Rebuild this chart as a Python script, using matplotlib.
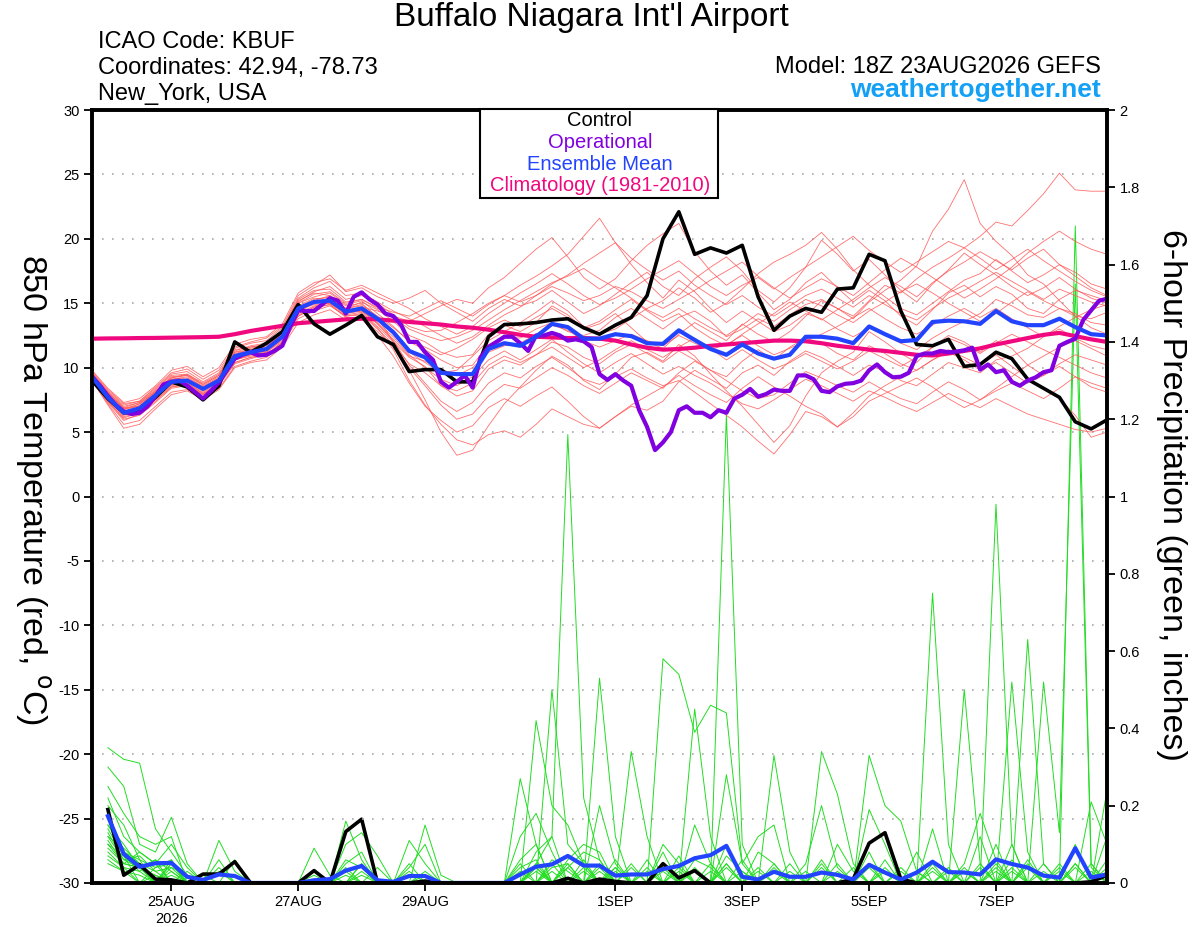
import numpy as np
import pandas as pd
import matplotlib
matplotlib.use("Agg")
import matplotlib.pyplot as plt
from matplotlib.patches import Rectangle

plt.rcParams['font.family'] = ['Liberation Sans', 'DejaVu Sans']
plt.rcParams['axes.unicode_minus'] = False

# forecast times: GEFS every 6 h, operational every 3 h, from 18Z 23AUG2026
start = pd.Timestamp('2026-08-23 18:00')
times = pd.date_range(start, periods=65, freq='6h')
times_op = pd.date_range(start, periods=129, freq='3h')
hours = np.array((times - start) / pd.Timedelta('1h'))
hours_op = np.array((times_op - start) / pd.Timedelta('1h'))

tick_dates = ['2026-08-25', '2026-08-27', '2026-08-29', '2026-09-01',
              '2026-09-03', '2026-09-05', '2026-09-07']
tick_labels = ['25AUG\n2026', '27AUG', '29AUG', '1SEP', '3SEP', '5SEP', '7SEP']

# 850 hPa temperature (C)
control_t = [9.0, 7.6, 6.5, 6.6, 7.7, 8.9, 8.5, 7.5, 8.6, 12.0, 11.2, 11.9, 12.8,
             14.9, 13.4, 12.6, 13.3, 14.05, 12.4, 11.8, 9.7, 9.85, 9.85, 8.9, 8.9,
             12.4, 13.35, 13.4, 13.5, 13.7, 13.8, 13.1, 12.6, 13.3, 13.9, 15.6, 20.0,
             22.1, 18.8, 19.3, 18.9, 19.5, 15.5, 12.9, 14.0, 14.6, 14.3, 16.1, 16.2,
             18.8, 18.3, 14.4, 11.8, 11.7, 12.2, 10.1, 10.25, 11.2, 10.7, 9.1, 8.4,
             7.7, 5.8, 5.25, 5.95]

mean_t = [9.3, 7.7, 6.5, 6.85, 7.85, 8.9, 9.0, 8.35, 9.0, 10.9, 11.2, 11.45, 12.4,
          14.6, 15.1, 15.2, 14.35, 14.6, 13.8, 12.75, 11.3, 10.8, 9.6, 9.5, 9.5,
          11.45, 11.9, 11.7, 12.4, 13.4, 13.15, 12.25, 12.25, 12.6, 12.45, 11.9, 11.85,
          12.9, 12.15, 11.45, 11.0, 11.8, 11.1, 10.7, 11.0, 12.4, 12.4, 12.25, 11.9,
          13.2, 12.6, 12.05, 12.15, 13.55, 13.65, 13.6, 13.4, 14.4, 13.6, 13.3, 13.3,
          13.8, 13.15, 12.6, 12.5]

clim_t = [12.25, 12.27, 12.28, 12.3, 12.31, 12.33, 12.35, 12.37, 12.4, 12.6, 12.85,
          13.05, 13.25, 13.45, 13.55, 13.65, 13.75, 13.8, 13.75, 13.65, 13.55, 13.45,
          13.35, 13.2, 13.1, 12.95, 12.75, 12.55, 12.4, 12.35, 12.3, 12.3, 12.25, 12.1,
          11.8, 11.55, 11.4, 11.45, 11.55, 11.7, 11.8, 11.9, 12.0, 12.1, 12.1, 12.05,
          11.9, 11.7, 11.55, 11.4, 11.3, 11.15, 11.0, 10.95, 11.1, 11.3, 11.5, 11.8,
          12.05, 12.3, 12.55, 12.7, 12.45, 12.2, 12.0]

oper_t = [9.3, 8.6, 7.8, 7.1, 6.6, 6.4, 6.5, 7.0, 7.8, 8.7, 8.9, 9.0, 8.6, 8.1, 7.6,
          8.2, 8.85, 9.8, 10.7, 11.0, 11.2, 10.95, 11.0, 11.3, 11.7, 13.2, 14.45, 14.4,
          14.4, 14.9, 15.4, 15.2, 14.2, 15.5, 15.85, 15.3, 14.9, 14.2, 14.0, 13.3, 12.0,
          12.0, 11.2, 10.6, 8.9, 8.45, 8.9, 9.4, 8.45, 10.8, 11.6, 12.0, 12.4, 12.4,
          11.9, 11.3, 12.5, 12.5, 12.7, 12.5, 12.1, 12.2, 12.05, 11.6, 9.5, 9.05, 9.5,
          9.0, 8.6, 6.7, 5.4, 3.6, 4.2, 5.0, 6.7, 7.0, 6.5, 6.5, 6.15, 6.7, 6.5, 7.6,
          7.9, 8.35, 7.75, 7.95, 8.3, 8.2, 8.2, 9.4, 9.4, 9.1, 8.2, 8.1, 8.55, 8.75,
          8.8, 9.0, 9.8, 10.25, 9.65, 9.25, 9.3, 9.6, 10.9, 11.1, 11.1, 11.3, 11.2,
          11.25, 11.35, 11.55, 9.85, 10.25, 9.65, 9.8, 8.9, 8.6, 9.0, 9.25, 9.65, 9.8,
          11.7, 12.0, 12.25, 13.7, 14.45, 15.2, 15.35]

members_t = [
    [9.5, 8.0, 6.8, 7.0, 8.2, 9.2, 9.4, 8.6, 9.3, 11.0, 11.5, 11.8, 12.9, 15.2, 15.8, 15.6, 14.8, 15.0, 13.9, 12.0, 9.8, 7.5, 5.0, 3.2, 3.6, 5.5, 7.2, 8.5, 9.8, 10.9, 10.2, 9.0, 8.3, 9.5, 10.8, 11.2, 10.5, 11.8, 10.9, 9.5, 8.2, 7.0, 5.6, 4.2, 5.5, 7.8, 9.6, 10.5, 11.2, 12.8, 12.0, 11.1, 10.4, 11.6, 12.5, 12.0, 11.2, 12.1, 11.5, 10.2, 9.4, 10.3, 11.0, 10.6, 10.2],
    [9.2, 7.5, 6.2, 6.5, 7.6, 8.6, 8.8, 8.0, 8.8, 10.6, 11.0, 11.2, 12.2, 14.3, 15.0, 15.4, 14.6, 15.1, 14.5, 13.6, 12.5, 12.0, 11.2, 10.8, 11.0, 12.6, 13.3, 12.8, 13.5, 14.8, 14.1, 13.0, 13.4, 14.2, 13.1, 12.0, 11.5, 12.6, 13.5, 12.8, 12.1, 13.4, 12.6, 12.0, 12.8, 14.0, 15.2, 14.6, 13.8, 15.1, 16.0, 16.8, 17.9, 20.6, 22.3, 24.6, 21.2, 19.8, 18.7, 17.2, 16.5, 15.2, 14.0, 13.1, 12.6],
    [9.4, 7.9, 6.6, 7.1, 8.0, 9.1, 9.3, 8.5, 9.2, 11.2, 11.4, 11.6, 12.7, 15.0, 15.5, 15.8, 14.9, 15.2, 14.2, 13.2, 12.0, 11.4, 10.6, 10.0, 10.2, 11.8, 12.4, 12.3, 13.0, 13.5, 12.8, 12.5, 12.9, 13.9, 14.6, 13.8, 13.0, 13.9, 14.4, 13.6, 12.4, 13.0, 13.8, 13.2, 14.1, 14.9, 15.3, 14.6, 14.0, 15.2, 16.4, 15.8, 16.9, 17.8, 18.5, 19.3, 20.2, 21.3, 21.0, 22.2, 23.5, 25.1, 23.8, 23.7, 23.7],
    [9.6, 8.1, 7.0, 7.3, 8.3, 9.4, 9.5, 8.8, 9.5, 11.3, 11.7, 11.9, 12.8, 15.1, 15.9, 16.3, 15.3, 15.6, 15.0, 14.1, 13.2, 12.8, 12.9, 13.5, 14.2, 15.0, 15.6, 16.4, 17.1, 17.9, 18.8, 20.2, 21.6, 19.7, 18.0, 16.6, 15.4, 16.8, 15.9, 14.6, 13.5, 14.4, 13.6, 12.8, 13.3, 14.2, 13.8, 13.0, 12.4, 13.1, 12.5, 11.9, 11.4, 12.3, 13.0, 13.6, 14.2, 15.3, 14.8, 14.1, 13.9, 14.6, 14.2, 13.5, 13.3],
    [9.1, 7.4, 6.0, 6.3, 7.3, 8.4, 8.6, 7.9, 8.7, 10.4, 10.8, 11.0, 12.0, 14.0, 14.7, 15.1, 14.2, 14.7, 14.4, 14.0, 13.6, 14.2, 14.8, 15.3, 15.0, 16.2, 17.0, 18.1, 19.2, 20.1, 18.6, 17.0, 16.1, 16.9, 18.3, 19.5, 20.4, 21.2, 19.0, 17.5, 16.4, 17.2, 15.8, 14.5, 15.3, 16.6, 17.4, 16.2, 15.1, 16.0, 15.2, 14.0, 13.3, 14.5, 15.8, 16.4, 15.5, 16.3, 15.7, 14.6, 14.2, 15.3, 16.0, 15.6, 15.2],
    [9.0, 7.2, 5.6, 5.9, 7.0, 8.1, 8.3, 7.6, 8.4, 10.1, 10.5, 10.8, 11.8, 13.8, 14.4, 14.8, 14.0, 14.2, 13.1, 11.4, 9.0, 7.1, 5.6, 4.4, 4.0, 4.8, 5.1, 4.6, 5.6, 6.8, 6.2, 5.6, 5.3, 6.2, 7.0, 6.7, 7.4, 8.9, 9.8, 9.1, 8.4, 9.6, 10.2, 9.4, 10.5, 11.3, 10.8, 10.1, 9.4, 10.2, 9.7, 9.0, 8.6, 9.5, 10.4, 10.0, 9.6, 10.6, 10.9, 11.5, 12.4, 13.0, 12.3, 11.7, 11.4],
    [9.3, 7.8, 6.7, 7.2, 8.1, 9.0, 9.1, 8.4, 9.1, 10.8, 11.1, 11.3, 12.3, 14.5, 14.9, 15.0, 14.1, 14.3, 13.2, 12.0, 10.8, 10.1, 8.6, 7.8, 8.2, 9.9, 10.6, 10.2, 11.0, 12.0, 11.6, 10.8, 10.3, 11.2, 11.8, 11.1, 10.4, 11.3, 10.6, 9.8, 9.3, 10.5, 11.4, 10.6, 11.6, 12.3, 11.9, 11.1, 10.6, 11.7, 11.1, 10.3, 9.8, 10.6, 11.4, 10.8, 10.2, 11.0, 10.1, 9.2, 8.4, 7.6, 6.3, 4.6, 5.0],
    [9.7, 8.3, 7.2, 7.4, 8.5, 9.6, 9.9, 9.1, 9.8, 11.6, 12.0, 12.3, 13.2, 15.6, 16.4, 17.2, 15.9, 16.2, 15.5, 15.0, 15.4, 16.0, 15.0, 14.3, 13.6, 14.6, 15.3, 14.8, 15.2, 16.0, 15.1, 14.2, 14.8, 15.7, 16.6, 17.4, 16.3, 15.6, 16.9, 17.8, 18.6, 17.5, 16.0, 15.1, 16.2, 17.8, 19.9, 18.8, 17.5, 18.4, 17.2, 16.0, 15.1, 16.5, 17.6, 18.9, 18.0, 17.2, 16.3, 15.6, 16.2, 17.0, 16.1, 15.4, 15.0],
    [9.2, 7.6, 6.4, 6.7, 7.7, 8.7, 8.9, 8.2, 8.9, 10.7, 11.0, 11.3, 12.3, 14.4, 15.2, 15.6, 14.6, 14.8, 13.8, 12.6, 11.2, 10.4, 9.6, 9.8, 10.9, 12.1, 12.8, 13.5, 14.3, 15.2, 14.4, 13.2, 12.6, 13.0, 13.8, 14.6, 15.2, 16.2, 15.4, 14.3, 15.0, 16.1, 17.3, 18.2, 18.8, 19.5, 20.5, 19.2, 17.6, 16.4, 15.5, 14.6, 14.1, 15.0, 15.9, 16.8, 17.3, 18.4, 17.5, 16.6, 17.2, 18.0, 17.4, 16.5, 16.1],
    [9.4, 7.9, 6.9, 7.0, 8.0, 9.1, 9.2, 8.5, 9.2, 11.1, 11.4, 11.7, 12.6, 14.8, 15.4, 15.3, 14.5, 14.6, 13.4, 12.1, 10.2, 8.8, 7.4, 6.6, 7.3, 8.8, 9.6, 9.2, 10.1, 10.8, 10.0, 9.1, 8.7, 9.3, 9.9, 9.2, 8.6, 9.0, 8.1, 7.2, 6.3, 5.4, 4.3, 3.3, 4.8, 6.6, 6.2, 5.4, 6.5, 7.8, 8.6, 9.3, 9.8, 10.6, 11.2, 10.6, 9.8, 10.4, 9.6, 8.8, 9.4, 10.1, 9.3, 8.5, 8.1],
    [9.5, 8.0, 6.8, 7.2, 8.1, 9.3, 9.4, 8.7, 9.4, 11.4, 11.6, 11.8, 12.9, 15.3, 16.0, 16.1, 15.1, 15.3, 14.6, 13.9, 13.0, 12.5, 12.1, 12.4, 12.9, 13.7, 14.5, 15.2, 15.9, 16.6, 17.1, 17.7, 16.9, 16.2, 15.4, 14.5, 13.9, 14.6, 13.8, 13.1, 12.5, 13.3, 14.2, 13.6, 14.5, 15.3, 14.8, 14.1, 13.5, 14.4, 15.1, 15.9, 16.5, 15.8, 15.0, 14.3, 13.6, 14.2, 15.1, 15.9, 15.2, 14.6, 14.0, 13.8, 14.3],
    [9.1, 7.3, 5.9, 6.4, 7.4, 8.5, 8.7, 8.0, 8.6, 10.3, 10.7, 11.0, 11.9, 14.0, 14.6, 14.9, 13.9, 13.9, 12.8, 11.6, 10.0, 8.6, 7.1, 6.0, 6.4, 7.8, 8.7, 8.4, 9.2, 10.0, 9.4, 8.6, 8.0, 8.8, 9.6, 9.0, 8.4, 9.6, 10.5, 9.8, 9.0, 8.2, 7.6, 7.9, 8.8, 9.7, 9.2, 8.6, 8.1, 8.9, 8.2, 7.6, 7.2, 8.1, 8.9, 8.3, 7.5, 8.2, 8.8, 8.2, 7.6, 8.4, 9.3, 8.8, 8.4],
    [9.6, 8.2, 7.1, 7.4, 8.4, 9.5, 9.7, 8.9, 9.6, 11.5, 11.9, 12.1, 13.1, 15.4, 16.2, 16.7, 15.6, 15.8, 15.1, 14.4, 13.8, 13.2, 12.5, 11.9, 12.4, 13.3, 14.1, 14.7, 15.6, 16.5, 17.2, 18.1, 18.9, 19.7, 18.5, 17.6, 16.8, 17.5, 16.4, 15.6, 14.9, 15.6, 14.7, 14.0, 14.8, 15.6, 16.1, 15.4, 14.7, 15.6, 14.9, 14.2, 13.7, 14.6, 15.4, 16.0, 16.7, 17.4, 16.7, 16.0, 15.3, 16.1, 15.6, 15.1, 14.8],
    [9.0, 7.1, 5.3, 5.6, 6.8, 7.9, 8.2, 7.5, 8.3, 10.0, 10.4, 10.6, 11.6, 13.5, 14.1, 14.5, 13.7, 13.8, 12.5, 10.9, 8.8, 7.0, 5.9, 5.0, 5.5, 6.9, 7.6, 7.0, 7.8, 8.5, 7.4, 6.2, 5.3, 6.2, 7.1, 7.8, 8.5, 9.4, 8.6, 7.9, 7.3, 8.4, 9.3, 8.5, 7.8, 7.0, 6.4, 5.4, 6.2, 7.4, 8.0, 8.6, 9.2, 8.5, 7.6, 6.9, 7.5, 8.4, 9.3, 10.2, 10.9, 11.6, 12.1, 11.5, 10.9],
    [9.3, 7.7, 6.5, 6.9, 7.9, 8.9, 9.1, 8.3, 9.0, 10.9, 11.3, 11.5, 12.5, 14.7, 15.3, 15.5, 14.6, 14.9, 14.0, 13.1, 12.1, 11.6, 11.0, 11.5, 12.2, 13.1, 13.7, 13.2, 13.9, 14.6, 13.9, 13.1, 13.6, 14.5, 15.3, 14.4, 13.6, 14.2, 13.1, 12.3, 11.7, 12.6, 13.4, 14.2, 15.1, 14.4, 13.7, 14.5, 15.3, 16.2, 17.0, 16.3, 15.5, 16.6, 17.5, 18.2, 19.0, 18.3, 17.6, 18.5, 19.2, 18.0, 17.1, 16.2, 15.6],
    [9.4, 7.8, 6.6, 6.8, 7.8, 8.8, 9.0, 8.4, 9.0, 10.8, 11.2, 11.4, 12.4, 14.6, 15.0, 15.1, 14.3, 14.4, 13.5, 12.4, 11.0, 10.0, 9.1, 8.6, 9.3, 10.6, 11.3, 10.6, 11.4, 12.2, 11.2, 10.3, 9.6, 10.4, 11.1, 10.3, 9.5, 10.1, 9.4, 8.8, 8.0, 7.2, 6.8, 7.5, 8.3, 9.1, 8.6, 8.0, 7.4, 8.2, 7.7, 7.1, 6.6, 7.3, 8.0, 7.4, 6.9, 7.6, 7.0, 6.4, 6.0, 5.6, 5.2, 5.0, 5.3],
    [9.5, 8.1, 6.9, 7.3, 8.2, 9.2, 9.5, 8.7, 9.4, 11.2, 11.6, 11.8, 12.8, 15.0, 15.7, 15.9, 15.0, 15.3, 14.7, 14.3, 14.0, 14.6, 15.2, 14.6, 14.0, 14.9, 15.6, 15.1, 15.6, 16.3, 15.8, 15.2, 15.6, 16.3, 15.9, 15.2, 14.6, 15.3, 16.0, 16.8, 17.5, 18.2, 17.1, 16.2, 15.4, 16.2, 16.9, 16.3, 15.6, 16.6, 17.6, 18.5, 17.8, 17.0, 16.2, 15.4, 16.1, 16.9, 17.8, 18.9, 19.8, 20.6, 19.8, 19.2, 18.8],
    [9.2, 7.6, 6.3, 6.6, 7.6, 8.7, 8.8, 8.1, 8.8, 10.6, 10.9, 11.2, 12.1, 14.2, 14.8, 15.0, 14.2, 14.4, 13.4, 12.2, 10.9, 10.5, 9.9, 9.4, 10.0, 11.2, 11.7, 11.9, 12.6, 13.3, 12.9, 12.1, 11.6, 12.1, 12.6, 12.1, 11.7, 12.5, 11.9, 11.4, 11.8, 12.5, 11.7, 11.0, 11.5, 12.1, 12.6, 13.2, 13.9, 14.6, 13.8, 13.1, 12.6, 13.3, 14.0, 14.6, 13.9, 14.6, 13.8, 13.1, 12.4, 13.2, 13.9, 14.5, 14.9],
    [9.1, 7.4, 6.1, 6.5, 7.5, 8.5, 8.7, 7.9, 8.7, 10.4, 10.8, 11.0, 12.0, 14.1, 14.7, 14.9, 14.0, 14.1, 13.0, 11.8, 10.3, 9.6, 8.6, 8.2, 8.8, 10.2, 10.9, 10.4, 11.0, 11.6, 10.8, 10.0, 10.6, 11.4, 12.1, 11.4, 10.8, 11.6, 12.3, 11.5, 10.6, 11.4, 10.6, 9.9, 10.4, 11.1, 10.5, 9.9, 10.5, 11.3, 10.7, 10.1, 10.8, 11.6, 12.3, 11.8, 11.1, 11.9, 12.6, 12.0, 11.4, 10.8, 10.2, 9.6, 9.2],
    [9.8, 8.4, 7.3, 7.6, 8.6, 9.8, 10.1, 9.3, 10.0, 11.8, 12.2, 12.4, 13.4, 15.8, 16.6, 16.9, 16.0, 16.4, 15.8, 15.2, 14.6, 13.8, 13.2, 12.6, 13.2, 14.2, 15.0, 15.8, 16.5, 17.3, 16.5, 15.6, 14.9, 15.4, 16.1, 16.9, 17.6, 18.3, 17.3, 16.3, 15.6, 16.4, 17.0, 16.1, 17.0, 17.8, 18.6, 19.4, 20.2, 19.1, 18.2, 17.4, 18.2, 19.0, 19.8, 19.3, 18.5, 17.6, 18.4, 19.2, 18.3, 17.5, 16.7, 16.0, 15.5],
]

# 6-hour precipitation (inches), valid from the second time step on
control_p = [0.19, 0.02, 0.047, 0.01, 0.008, 0, 0.023, 0.023,
             0.055, 0, 0, 0, 0, 0.032, 0, 0.133,
             0.165, 0, 0, 0, 0.005, 0, 0, 0,
             0, 0, 0, 0, 0, 0.012, 0, 0.01,
             0.004, 0, 0, 0.05, 0.013, 0.032, 0, 0,
             0, 0, 0, 0, 0, 0, 0, 0.01,
             0.103, 0.13, 0.01, 0, 0, 0, 0, 0,
             0, 0, 0, 0, 0, 0, 0.003, 0.02]

mean_p = [0.173, 0.075, 0.042, 0.051, 0.052, 0.016, 0.008, 0.022,
          0.018, 0, 0, 0, 0, 0.007, 0.01, 0.032,
          0.044, 0.007, 0.003, 0.018, 0.018, 0, 0, 0,
          0, 0, 0.022, 0.042, 0.048, 0.07, 0.045, 0.045,
          0.019, 0.022, 0.022, 0.036, 0.044, 0.064, 0.072, 0.096,
          0.016, 0.009, 0.029, 0.016, 0.016, 0.027, 0.021, 0.009,
          0.047, 0.027, 0.009, 0.027, 0.055, 0.028, 0.027, 0.022,
          0.061, 0.049, 0.04, 0.019, 0.014, 0.09, 0.014, 0.022]

members_p = [
    [.35, .32, .31, .14, .08, .02, 0, 0, 0, 0, 0, 0, 0, 0, 0, 0,
     0, 0, 0, 0, 0, 0, 0, 0, 0, 0, 0, .05, .12, 1.16, .22, .06,
     0, 0, 0, .08, 0, 0, 0, .05, 0, 0, 0, 0, 0, 0, 0, 0,
     0, 0, 0, 0, .14, 0, 0, 0, .98, .10, 0, 0, 0, .05, 0, 0],
    [.30, .25, .10, .08, .17, .05, 0, 0, 0, 0, 0, 0, 0, 0, 0, .16,
     .06, 0, 0, 0, 0, 0, 0, 0, 0, 0, .27, .10, 0, 0, 0, .53,
     .12, 0, 0, 0, .07, 0, 0, 1.21, .10, 0, 0, 0, 0, .05, 0, 0,
     0, 0, 0, 0, 0, 0, .50, .05, 0, 0, 0, 0, 0, 0, .21, .10],
    [.25, .18, .12, .10, .12, 0, 0, .11, .03, 0, 0, 0, 0, 0, 0, 0,
     0, 0, 0, .11, .05, 0, 0, 0, 0, 0, 0, .42, .20, .15, .05, 0,
     0, 0, 0, .58, .54, .39, .46, .44, .05, 0, 0, 0, 0, 0, 0, 0,
     .33, .20, .16, .03, 0, 0, 0, 0, 0, 0, 0, 0, 0, 1.70, .05, 0],
    [.22, .12, .08, .05, .10, .04, 0, 0, 0, 0, 0, 0, 0, .09, .02, 0,
     0, 0, 0, 0, 0, 0, 0, 0, 0, 0, 0, 0, .50, .10, .05, 0,
     0, .34, .12, 0, 0, 0, 0, 0, 0, 0, .33, .08, 0, 0, 0, 0,
     0, 0, 0, 0, .75, .10, 0, 0, 0, 0, .63, .05, 0, 0, 0, 0],
    [.20, .15, .06, .04, .06, 0, 0, 0, 0, 0, 0, 0, 0, 0, 0, .10,
     .13, .07, 0, 0, 0, 0, 0, 0, 0, 0, .12, .18, .08, 0, 0, .20,
     .05, 0, 0, 0, 0, .45, .12, 0, 0, 0, 0, 0, 0, .34, .23, .05,
     0, 0, 0, 0, 0, 0, 0, 0, 0, .52, .08, 0, 0, 0, 0, .24],
    [.18, .08, .06, 0, .05, 0, .02, 0, 0, 0, 0, 0, 0, 0, 0, 0,
     0, 0, 0, 0, .15, .02, 0, 0, 0, 0, 0, 0, 0, .06, .10, .08,
     0, 0, 0, 0, 0, 0, 0, .28, .05, .12, .15, 0, 0, 0, 0, 0,
     .19, .10, 0, 0, 0, 0, 0, 0, .10, 0, 0, .52, .13, 1.55, .04, 0],
    [.15, .10, .04, .06, .03, 0, 0, .06, 0, 0, 0, 0, 0, 0, 0, 0,
     .05, 0, 0, .04, .10, 0, 0, 0, 0, 0, 0, .08, .12, 0, 0, 0,
     .04, 0, .06, 0, 0, .15, .05, 0, 0, 0, 0, 0, 0, 0, .10, .03,
     0, 0, 0, 0, 0, 0, .05, .18, .06, 0, 0, 0, 0, 0, 0, .12],
    [.13, .06, .07, .03, .04, 0, 0, 0, 0, 0, 0, 0, 0, 0, 0, .06,
     .04, 0, 0, 0, 0, 0, 0, 0, 0, 0, .06, .10, 0, .04, .08, .06,
     0, 0, 0, .10, .05, 0, 0, 0, 0, .08, .05, 0, 0, 0, 0, 0,
     0, .06, 0, 0, .04, 0, 0, .12, 0, .10, 0, 0, 0, .10, 0, 0],
    [.12, .09, .05, 0, .06, 0, 0, 0, .06, 0, 0, 0, 0, .03, 0, 0,
     0, .04, 0, 0, 0, 0, 0, 0, 0, 0, 0, 0, .04, .05, 0, 0,
     0, .05, 0, 0, 0, 0, 0, .07, .03, 0, 0, 0, .05, .20, .04, 0,
     0, 0, 0, .08, 0, 0, 0, 0, 0, 0, .05, 0, .03, 0, 0, 0],
    [.10, .05, .08, .05, 0, .03, 0, 0, 0, 0, 0, 0, 0, 0, 0, .05,
     .08, 0, 0, 0, 0, 0, 0, 0, 0, 0, 0, .05, 0, 0, .04, 0,
     .06, 0, 0, 0, 0, .06, .04, 0, 0, 0, 0, .05, 0, 0, 0, 0,
     .08, 0, 0, 0, 0, .04, 0, 0, .04, 0, 0, .05, 0, 0, 0, .06],
    [.10, .07, 0, .04, .05, 0, 0, 0, 0, 0, 0, 0, 0, 0, 0, 0,
     0, 0, 0, .05, 0, 0, 0, 0, 0, 0, .04, .06, 0, 0, 0, .04,
     0, 0, 0, .05, 0, 0, 0, .10, 0, 0, .05, 0, 0, 0, 0, 0,
     0, .04, 0, 0, 0, 0, .03, 0, 0, .06, 0, 0, 0, 0, .05, 0],
    [.09, .05, .04, 0, .03, 0, 0, .04, 0, 0, 0, 0, 0, 0, 0, 0,
     .05, 0, 0, 0, 0, 0, 0, 0, 0, 0, 0, 0, .06, .03, 0, 0,
     0, 0, .04, 0, .04, 0, 0, 0, .06, 0, 0, 0, 0, 0, .03, 0,
     0, 0, .04, 0, 0, 0, 0, .05, 0, 0, .04, 0, 0, .05, 0, 0],
    [.08, .04, .03, .06, 0, 0, 0, 0, 0, 0, 0, 0, 0, 0, 0, .04,
     0, 0, 0, 0, .03, 0, 0, 0, 0, 0, 0, .03, 0, 0, .06, 0,
     0, 0, 0, 0, 0, .04, 0, 0, 0, .04, 0, 0, 0, .06, 0, 0,
     0, 0, 0, 0, .03, 0, 0, 0, .05, 0, 0, 0, .04, 0, 0, 0],
    [.07, .04, 0, 0, .04, .02, 0, 0, 0, 0, 0, 0, 0, .02, 0, 0,
     0, 0, 0, 0, 0, 0, 0, 0, 0, 0, .03, 0, 0, .05, 0, 0,
     .03, 0, 0, 0, 0, 0, .05, 0, 0, 0, .04, 0, 0, 0, 0, 0,
     .05, 0, 0, 0, 0, 0, .04, 0, 0, 0, 0, .03, 0, 0, 0, .04],
    [.06, .03, .02, 0, 0, 0, 0, 0, 0, 0, 0, 0, 0, 0, 0, 0,
     .03, 0, 0, 0, 0, 0, 0, 0, 0, 0, 0, .04, 0, 0, 0, .03,
     0, 0, 0, .03, 0, 0, 0, .04, 0, 0, 0, 0, .03, 0, 0, 0,
     0, .03, 0, 0, 0, .03, 0, 0, 0, .03, 0, 0, 0, 0, 0, 0],
    [.05, .03, 0, .02, 0, 0, 0, 0, 0, 0, 0, 0, 0, 0, 0, .03,
     0, 0, 0, 0, 0, 0, 0, 0, 0, 0, 0, 0, .03, 0, 0, 0,
     0, .04, 0, 0, 0, .03, 0, 0, 0, 0, 0, .03, 0, 0, 0, .04,
     0, 0, 0, .03, 0, 0, 0, 0, .03, 0, 0, 0, 0, 0, .03, 0],
    [.12, .06, .04, 0, .05, 0, 0, .03, 0, 0, 0, 0, 0, 0, 0, 0,
     0, 0, 0, .03, 0, 0, 0, 0, 0, 0, 0, 0, 0, .04, 0, 0,
     0, 0, 0, 0, .03, 0, 0, 0, .03, 0, 0, 0, 0, 0, .05, 0,
     0, 0, 0, 0, .05, 0, 0, 0, 0, 0, .06, 0, 0, 0, 0, 0],
    [.15, .08, .05, .03, 0, 0, 0, 0, 0, 0, 0, 0, 0, 0, 0, 0,
     .02, 0, 0, 0, 0, 0, 0, 0, 0, 0, 0, 0, .05, 0, .03, 0,
     0, 0, .03, 0, 0, 0, 0, .05, 0, 0, 0, 0, 0, .04, 0, 0,
     0, 0, 0, 0, 0, 0, 0, .04, 0, 0, 0, 0, .05, 0, 0, 0],
    [.14, .07, .03, 0, .02, 0, 0, 0, 0, 0, 0, 0, 0, 0, 0, 0,
     0, 0, 0, 0, .02, 0, 0, 0, 0, 0, 0, .04, 0, 0, 0, .05,
     0, 0, 0, 0, 0, 0, .03, 0, 0, 0, .03, 0, 0, 0, 0, 0,
     .04, 0, 0, 0, 0, 0, .03, 0, 0, 0, 0, 0, 0, .04, 0, 0],
    [.11, .05, .04, .02, 0, 0, 0, 0, 0, 0, 0, 0, 0, 0, 0, .02,
     0, 0, 0, 0, 0, 0, 0, 0, 0, 0, .05, 0, 0, 0, 0, 0,
     .04, 0, 0, .04, 0, 0, 0, 0, 0, .03, 0, 0, 0, 0, 0, 0,
     0, 0, .03, 0, 0, 0, 0, 0, 0, .04, 0, 0, 0, 0, 0, .03],
]

RED = '#ff5656'
GREEN = '#22dd22'
BLUE = '#2244ff'
PURPLE = '#8000e0'
PINK = '#f0087f'

fig = plt.figure(figsize=(12, 9.27), dpi=100)
ax = fig.add_axes([0.0767, 0.0475, 0.8458, 0.8338])
ax2 = ax.twinx()
ax.set_zorder(ax2.get_zorder() + 1)
ax.patch.set_visible(False)

# precipitation (right axis)
for m in members_p:
    ax2.plot(hours[1:], m, color=GREEN, lw=0.7)
ax2.plot(hours[1:], control_p, color='black', lw=2.6)
ax2.plot(hours[1:], mean_p, color=BLUE, lw=3)

# temperature (left axis)
for i in [-25, -20, -15, -10, -5, 0, 5, 10, 15, 20, 25]:
    ax.axhline(i, color='#aaaaaa', lw=1.2, ls=(0, (1, 5)), zorder=0)
for m in members_t:
    ax.plot(hours, m, color=RED, lw=0.6, alpha=0.85)
ax.plot(hours, clim_t, color=PINK, lw=3)
ax.plot(hours, control_t, color='black', lw=2.6)
ax.plot(hours_op, oper_t, color=PURPLE, lw=3)
ax.plot(hours, mean_t, color=BLUE, lw=3)

ax.set_xlim(hours[0], hours[-1])
ax.set_ylim(-30, 30)
ax2.set_ylim(0, 2)
ax.set_yticks(range(-30, 31, 5))
ax2.set_yticks(np.arange(0, 2.01, 0.2))
ax2.set_yticklabels(['%g' % round(v, 1) for v in np.arange(0, 2.01, 0.2)])

tick_hours = [(pd.Timestamp(d) - start) / pd.Timedelta('1h') for d in tick_dates]
ax.set_xticks(tick_hours)
ax.set_xticklabels(tick_labels)

for a in (ax, ax2):
    a.tick_params(direction='out', length=6, width=1.3, labelsize=10.5, pad=3)
    for s in a.spines.values():
        s.set_linewidth(2.6)

# axis titles, both read top to bottom
fig.text(32 / 1200, 1 - 490 / 927, '850 hPa Temperature (red, $^{\\mathrm{o}}$C)',
         fontsize=24.5, rotation=-90, ha='center', va='center')
fig.text(1172 / 1200, 1 - 495 / 927, '6-hour Precipitation (green, inches)',
         fontsize=24.5, rotation=-90, ha='center', va='center')

# header texts
fig.text(0.4925, 0.981, "Buffalo Niagara Int'l Airport", fontsize=24,
         ha='center', va='center')
fig.text(0.0817, 1 - 48 / 927, 'ICAO Code: KBUF', fontsize=17, va='baseline')
fig.text(0.0817, 1 - 74 / 927, 'Coordinates: 42.94, -78.73', fontsize=17, va='baseline')
fig.text(0.0817, 1 - 100 / 927, 'New_York, USA', fontsize=17, va='baseline')
fig.text(0.9175, 1 - 73 / 927, 'Model: 18Z 23AUG2026 GEFS', fontsize=17,
         ha='right', va='baseline')
fig.text(0.9175, 1 - 97 / 927, 'weathertogether.net', fontsize=19,
         fontweight='bold', color='#14a0f5', ha='right', va='baseline')

# legend box
fig.add_artist(Rectangle((480 / 1200, 1 - 198 / 927), 238 / 1200, 89 / 927,
                         transform=fig.transFigure, facecolor='white',
                         edgecolor='black', lw=1.5, zorder=5))
legend_items = [('Control', 'black'), ('Operational', PURPLE),
                ('Ensemble Mean', BLUE), ('Climatology (1981-2010)', PINK)]
for k, (txt, col) in enumerate(legend_items):
    fig.text(0.5, 1 - (121 + 21.5 * k) / 927, txt, color=col, fontsize=14.5,
             ha='center', va='center', zorder=6)

fig.savefig('out.png', dpi=100)
